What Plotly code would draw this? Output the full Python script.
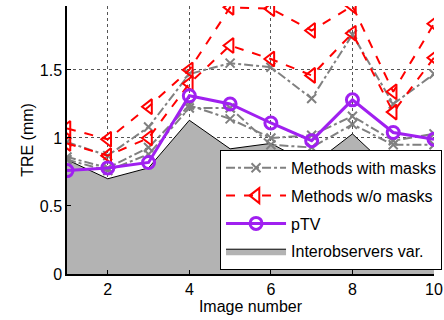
import plotly.graph_objects as go

x = [1, 2, 3, 4, 5, 6, 7, 8, 9, 10]

# Methods with masks (gray, several methods)
masks_a = [0.97, 0.87, 1.08, 1.47, 1.55, 1.52, 1.29, 1.76, 1.25, 1.47]
masks_b = [0.86, 0.78, 0.93, 1.24, 1.14, 1.00, 1.02, 1.16, 0.98, 1.03]
masks_c = [0.84, 0.76, 0.88, 1.22, 1.22, 0.95, 0.93, 1.10, 0.95, 0.95]

# Methods without masks (red)
nomask_a = [1.07, 0.99, 1.23, 1.50, 1.96, 1.95, 1.79, 1.97, 1.34, 1.84]
nomask_b = [0.96, 0.87, 1.00, 1.40, 1.68, 1.58, 1.46, 1.77, 1.19, 1.59]

# pTV
ptv = [0.76, 0.78, 0.82, 1.31, 1.25, 1.11, 0.98, 1.28, 1.04, 0.99]

# Interobserver variability
interobs = [0.84, 0.70, 0.78, 1.13, 0.92, 0.96, 0.80, 1.03, 0.75, 0.70]

x_ticks = [2, 4, 6, 8, 10]
y_ticks = [0, 0.5, 1, 1.5]

GRAY = "#808080"
RED = "#ff0000"
PURPLE = "#a020f0"
FONT = "Liberation Sans, Arial, sans-serif"

fig = go.Figure()

fig.add_trace(go.Scatter(
    x=x, y=interobs, mode="lines", fill="tozeroy",
    fillcolor="#b3b3b3", line=dict(color="black", width=1),
    name="Interobservers var.", legendrank=4, legendgroup="io",
))

for i, s in enumerate([masks_a, masks_b, masks_c]):
    fig.add_trace(go.Scatter(
        x=x, y=s, mode="lines+markers",
        line=dict(color=GRAY, width=2, dash="dashdot"),
        marker=dict(symbol="x-thin-open", size=9, color=GRAY,
                    line=dict(color=GRAY, width=2)),
        name="Methods with masks", legendgroup="masks",
        showlegend=(i == 0), legendrank=1,
    ))

for i, s in enumerate([nomask_a, nomask_b]):
    fig.add_trace(go.Scatter(
        x=x, y=s, mode="lines+markers",
        line=dict(color=RED, width=2, dash="dash"),
        marker=dict(symbol="triangle-left-open", size=13, color=RED,
                    line=dict(color=RED, width=2)),
        name="Methods w/o masks", legendgroup="nomask",
        showlegend=(i == 0), legendrank=2,
    ))

fig.add_trace(go.Scatter(
    x=x, y=ptv, mode="lines+markers",
    line=dict(color=PURPLE, width=3),
    marker=dict(symbol="circle-open", size=12, color=PURPLE,
                line=dict(color=PURPLE, width=3)),
    name="pTV", legendrank=3, legendgroup="ptv",
))

fig.update_layout(
    width=444, height=320,
    margin=dict(l=67, r=10, t=6, b=46, autoexpand=False),
    paper_bgcolor="white", plot_bgcolor="white",
    font=dict(family=FONT, size=15, color="black"),
    showlegend=True,
    legend=dict(
        x=0.417, y=0.463, xanchor="left", yanchor="top",
        bgcolor="white", bordercolor="black", borderwidth=1,
        font=dict(family=FONT, size=16, color="black"),
        itemwidth=60, traceorder="grouped", tracegroupgap=4,
    ),
    xaxis=dict(
        range=[1, 10], tickvals=x_ticks, ticktext=[str(v) for v in x_ticks],
        showgrid=True, gridcolor="#555555", griddash="dot", gridwidth=1,
        showline=True, linecolor="black", linewidth=1.5,
        ticks="inside", ticklen=4, tickcolor="black",
        zeroline=False, automargin=False,
        title=dict(text="Image number", standoff=2, font=dict(size=16)),
        tickfont=dict(size=16),
    ),
    yaxis=dict(
        range=[0, 1.97], tickvals=y_ticks, ticktext=["0", "0.5", "1", "1.5"],
        showgrid=True, gridcolor="#555555", griddash="dot", gridwidth=1,
        showline=True, linecolor="black", linewidth=1.5,
        ticks="inside", ticklen=4, tickcolor="black",
        zeroline=False, automargin=False,
        title=dict(text="TRE (mm)", standoff=2, font=dict(size=16)),
        tickfont=dict(size=16),
    ),
)

fig.write_html(
    "out.html",
    config={"displayModeBar": False},
    post_script="document.body.style.margin='0';document.body.style.padding='0';",
)
